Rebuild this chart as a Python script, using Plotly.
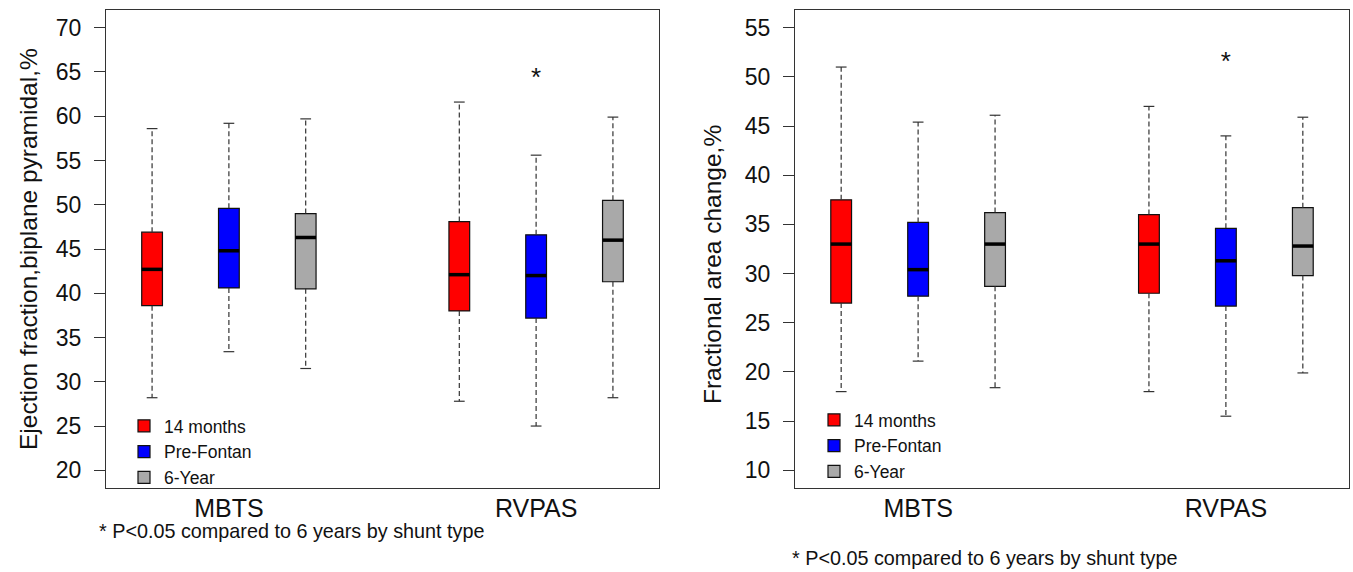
import plotly.graph_objects as go

# ---------------- data ----------------
groups = ["MBTS", "RVPAS"]
series = ["14 months", "Pre-Fontan", "6-Year"]
colors = ["#FF0000", "#0000FF", "#A9A9A9"]

# Ejection fraction, biplane pyramidal (%)  -> values for [MBTS, RVPAS]
ef_upper = {"14 months": [58.6, 61.6], "Pre-Fontan": [59.2, 55.6], "6-Year": [59.7, 59.9]}
ef_q3 = {"14 months": [46.9, 48.1], "Pre-Fontan": [49.6, 46.6], "6-Year": [49.0, 50.5]}
ef_median = {"14 months": [42.7, 42.1], "Pre-Fontan": [44.8, 42.0], "6-Year": [46.3, 46.0]}
ef_q1 = {"14 months": [38.6, 38.0], "Pre-Fontan": [40.6, 37.2], "6-Year": [40.5, 41.3]}
ef_lower = {"14 months": [28.2, 27.8], "Pre-Fontan": [33.4, 25.0], "6-Year": [31.5, 28.2]}

# Fractional area change (%)
fac_upper = {"14 months": [51.0, 47.0], "Pre-Fontan": [45.4, 44.0], "6-Year": [46.1, 45.9]}
fac_q3 = {"14 months": [37.5, 36.0], "Pre-Fontan": [35.2, 34.6], "6-Year": [36.2, 36.7]}
fac_median = {"14 months": [33.0, 33.0], "Pre-Fontan": [30.4, 31.3], "6-Year": [33.0, 32.8]}
fac_q1 = {"14 months": [27.0, 28.0], "Pre-Fontan": [27.7, 26.7], "6-Year": [28.7, 29.8]}
fac_lower = {"14 months": [18.0, 18.0], "Pre-Fontan": [21.1, 15.5], "6-Year": [18.4, 19.9]}

# significance marker (RVPAS, Pre-Fontan)
star_series = "Pre-Fontan"
star_group = "RVPAS"
ef_star_y = 64.2
fac_star_y = 51.4

ef_ticks = [20, 25, 30, 35, 40, 45, 50, 55, 60, 65, 70]
fac_ticks = [10, 15, 20, 25, 30, 35, 40, 45, 50, 55]
footnote = "* P<0.05 compared to 6 years by shunt type"

# ---------------- layout constants ----------------
group_base = [1, 5]
box_w = 0.27
cap_half = 0.07
FONT = "Arial, 'Liberation Sans', sans-serif"
W, H = 1353, 572


def pos(gi, si):
    return group_base[gi] + si


fig = go.Figure()


def add_panel(xa, ya, upper, q3, med, q1, lower, star_y, legend_name):
    for si, s in enumerate(series):
        xs = [pos(gi, si) for gi in range(len(groups))]
        # box body
        fig.add_trace(go.Bar(
            x=xs, y=[a - b for a, b in zip(q3[s], q1[s])], base=q1[s], width=box_w,
            marker=dict(color=colors[si], line=dict(color="#111111", width=1.2)),
            name=s, legend=legend_name, showlegend=True,
            xaxis=xa, yaxis=ya, hoverinfo="skip"))
        # whiskers (dashed)
        wx, wy = [], []
        for gi, x in enumerate(xs):
            wx += [x, x, None, x, x, None]
            wy += [q3[s][gi], upper[s][gi], None, q1[s][gi], lower[s][gi], None]
        fig.add_trace(go.Scatter(x=wx, y=wy, mode="lines",
                                 line=dict(color="#333333", width=1.2, dash="5px,3px"),
                                 showlegend=False, xaxis=xa, yaxis=ya, hoverinfo="skip"))
        # caps
        cx, cy = [], []
        for gi, x in enumerate(xs):
            cx += [x - cap_half, x + cap_half, None, x - cap_half, x + cap_half, None]
            cy += [upper[s][gi], upper[s][gi], None, lower[s][gi], lower[s][gi], None]
        fig.add_trace(go.Scatter(x=cx, y=cy, mode="lines",
                                 line=dict(color="#333333", width=1.2),
                                 showlegend=False, xaxis=xa, yaxis=ya, hoverinfo="skip"))
        # medians
        mx, my = [], []
        for gi, x in enumerate(xs):
            mx += [x - box_w / 2, x + box_w / 2, None]
            my += [med[s][gi], med[s][gi], None]
        fig.add_trace(go.Scatter(x=mx, y=my, mode="lines",
                                 line=dict(color="#000000", width=3.5),
                                 showlegend=False, xaxis=xa, yaxis=ya, hoverinfo="skip"))
    # star
    fig.add_trace(go.Scatter(
        x=[pos(groups.index(star_group), series.index(star_series))], y=[star_y],
        mode="text", text=["*"], textfont=dict(family=FONT, size=26, color="#111111"),
        showlegend=False, xaxis=xa, yaxis=ya, hoverinfo="skip"))


add_panel("x", "y", ef_upper, ef_q3, ef_median, ef_q1, ef_lower, ef_star_y, "legend")
add_panel("x2", "y2", fac_upper, fac_q3, fac_median, fac_q1, fac_lower, fac_star_y, "legend2")

ydom = [1 - 488 / H, 1 - 10 / H]
common_x = dict(range=[0.4, 7.6], tickvals=[g + 1 for g in group_base], ticktext=groups,
                ticks="", showline=True, mirror=True, linecolor="#333333", linewidth=1.3,
                showgrid=False, zeroline=False, fixedrange=True,
                tickfont=dict(family=FONT, size=25, color="#111111"), ticklabelstandoff=-2)
common_y = dict(ticks="outside", ticklen=11, tickcolor="#333333", tickwidth=1.2,
                showline=True, mirror=True, linecolor="#333333", linewidth=1.3,
                showgrid=False, zeroline=False, fixedrange=True,
                tickfont=dict(family=FONT, size=23, color="#111111"), ticklabelstandoff=8)

legend_common = dict(font=dict(family=FONT, size=17.5, color="#111111"),
                     bgcolor="rgba(0,0,0,0)", borderwidth=0, tracegroupgap=0,
                     xanchor="left", yanchor="top", itemclick=False, itemdoubleclick=False)

fig.update_layout(
    width=W, height=H, margin=dict(l=0, r=0, t=0, b=0),
    paper_bgcolor="white", plot_bgcolor="white",
    barmode="overlay",
    font=dict(family=FONT, color="#111111"),
    xaxis=dict(domain=[106 / W, 659 / W], anchor="y", **common_x),
    yaxis=dict(domain=ydom, anchor="x", range=[18, 72], tickvals=ef_ticks, **common_y),
    xaxis2=dict(domain=[795 / W, 1349 / W], anchor="y2", **common_x),
    yaxis2=dict(domain=ydom, anchor="x2", range=[8.2, 56.8], tickvals=fac_ticks, **common_y),
    legend=dict(x=124 / W, y=1 - 408 / H, **legend_common),
    legend2=dict(x=814 / W, y=1 - 402 / H, **legend_common),
    annotations=[
        dict(text="Ejection fraction,biplane pyramidal,%", textangle=-90,
             x=28 / W, y=1 - 249 / H, xref="paper", yref="paper", showarrow=False,
             xanchor="center", yanchor="middle",
             font=dict(family=FONT, size=24.5, color="#111111")),
        dict(text="Fractional area change,%", textangle=-90,
             x=712 / W, y=1 - 265 / H, xref="paper", yref="paper", showarrow=False,
             xanchor="center", yanchor="middle",
             font=dict(family=FONT, size=24.5, color="#111111")),
        dict(text=footnote, x=97 / W, y=1 - 531 / H, xref="paper", yref="paper",
             xanchor="left", yanchor="middle", showarrow=False,
             font=dict(family=FONT, size=19.8, color="#111111")),
        dict(text=footnote, x=790 / W, y=1 - 558 / H, xref="paper", yref="paper",
             xanchor="left", yanchor="middle", showarrow=False,
             font=dict(family=FONT, size=19.8, color="#111111")),
    ],
)

fig.write_html("out.html")
